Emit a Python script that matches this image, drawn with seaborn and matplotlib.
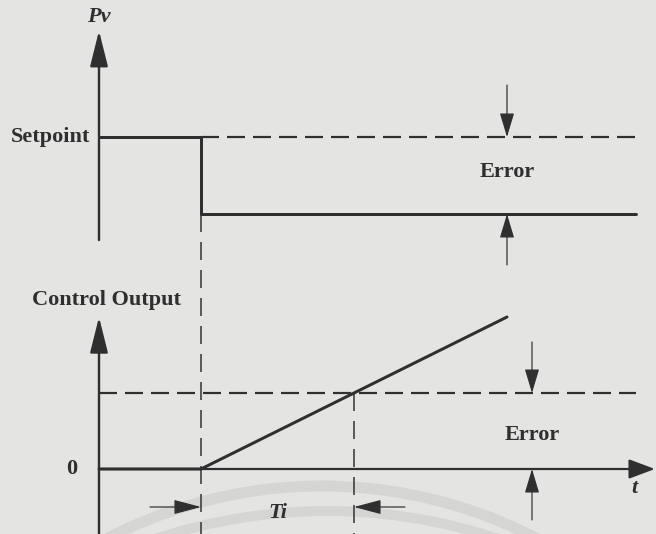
import matplotlib
matplotlib.use("Agg")
import matplotlib.pyplot as plt
from matplotlib.patches import Arc
import seaborn as sns

sns.set_theme(style="white")
plt.rcParams["font.family"] = ["Liberation Serif", "DejaVu Serif"]
plt.rcParams["lines.scale_dashes"] = False

# ---------------- data (abstract units) ----------------
# process variable (top panel)
pv_time = [0.0, 1.0, 1.0, 5.26]
pv_value = [1.0, 1.0, 0.0, 0.0]
setpoint = 1.0
# control output (bottom panel)
out_time = [0.0, 1.0, 4.0]
out_value = [0.0, 0.0, 2.0]
error_level = 1.0
step_time = 1.0
ti_time = 2.5
t_end = 5.26

BG = "#e4e4e2"
INK = "#2f2f2f"
PX = 0.72  # points per pixel at dpi 100

fig = plt.figure(figsize=(6.56, 5.34), dpi=100, facecolor=BG)

# decorative watermark layer (pixel coordinates)
deco = fig.add_axes([0, 0, 1, 1])
deco.set_xlim(0, 656); deco.set_ylim(534, 0); deco.axis("off")
deco.add_patch(Arc((322, 952), 2 * 466, 2 * 466, theta1=180, theta2=360,
                   lw=11 * PX, color="#d5d5d3"))
deco.add_patch(Arc((327, 1051), 2 * 540, 2 * 540, theta1=180, theta2=360,
                   lw=10 * PX, color="#d5d5d3"))

xlim = (-99 / 102, 557 / 102)
top = fig.add_axes([0, 0, 1, 1], label="top")
top.set_xlim(*xlim); top.set_ylim((214 - 534) / 77, 214 / 77)
top.axis("off"); top.patch.set_alpha(0)
bot = fig.add_axes([0, 0, 1, 1], label="bot")
bot.set_xlim(*xlim); bot.set_ylim(-65 / 76, 469 / 76)
bot.axis("off"); bot.patch.set_alpha(0)

hdash = (18 * PX, 8 * PX)
vdash = (18 * PX, 10 * PX)


def arrow(ax, start, end, lw, hl, hw, color=INK):
    ax.annotate("", xy=end, xytext=start,
                arrowprops=dict(arrowstyle=f"-|>,head_length={hl},head_width={hw}",
                                lw=lw, color=color, shrinkA=0, shrinkB=0,
                                mutation_scale=10))


# ---------------- top panel ----------------
sns.lineplot(x=pv_time, y=pv_value, ax=top, sort=False, estimator=None,
             color=INK, lw=3 * PX)
l = sns.lineplot(x=[step_time, t_end], y=[setpoint, setpoint], ax=top,
                 sort=False, estimator=None, color=INK, lw=2.2 * PX).lines[-1]
l.set_dashes(hdash)
l = sns.lineplot(x=[step_time, step_time], y=[0.0, -4.16], ax=top,
                 sort=False, estimator=None, color=INK, lw=1.5 * PX,
                 orient="y").lines[-1]
l.set_dashes(vdash)
# Pv axis
arrow(top, (0, -0.338), (0, 2.38), 2.4 * PX, 2.2, 0.55)
# error arrows
arrow(top, (4.0, 1.675), (4.0, setpoint), 1.2 * PX, 1.5, 0.45)
arrow(top, (4.0, -0.662), (4.0, 0.0), 1.2 * PX, 1.5, 0.45)

fs = 16
top.text(0, 2.56, "Pv", fontsize=fs, fontweight="bold", fontstyle="italic",
         ha="center", va="center", color=INK)
top.text(-0.085, setpoint, "Setpoint", fontsize=fs, fontweight="bold",
         ha="right", va="center", color=INK)
top.text(4.0, 0.55, "Error", fontsize=fs, fontweight="bold",
         ha="center", va="center", color=INK)

# ---------------- bottom panel ----------------
# time axis
arrow(bot, (0, 0), (5.45, 0), 2.2 * PX, 1.6, 0.6)
# control output axis
arrow(bot, (0, -0.9), (0, 2.0), 2.4 * PX, 2.2, 0.55)
sns.lineplot(x=out_time, y=out_value, ax=bot, sort=False, estimator=None,
             color=INK, lw=3 * PX)
l = sns.lineplot(x=[0.0, t_end], y=[error_level, error_level], ax=bot,
                 sort=False, estimator=None, color=INK, lw=2.2 * PX).lines[-1]
l.set_dashes(hdash)
l = sns.lineplot(x=[ti_time, ti_time], y=[error_level, -0.86], ax=bot,
                 sort=False, estimator=None, color=INK, lw=1.5 * PX,
                 orient="y").lines[-1]
l.set_dashes(vdash)
# error arrows
arrow(bot, (4.245, 1.671), (4.245, error_level), 1.2 * PX, 1.5, 0.45)
arrow(bot, (4.245, -0.671), (4.245, 0.0), 1.2 * PX, 1.5, 0.45)
# Ti arrows
arrow(bot, (0.5, -0.5), (step_time, -0.5), 1.2 * PX, 1.7, 0.45)
arrow(bot, (3.0, -0.5), (ti_time, -0.5), 1.2 * PX, 1.7, 0.45)

bot.text(0.078, 2.22, "Control Output", fontsize=fs, fontweight="bold",
         ha="center", va="center", color=INK)
bot.text(-0.265, 0.0, "0", fontsize=fs, fontweight="bold",
         ha="center", va="center", color=INK)
bot.text(5.245, -0.25, "t", fontsize=fs, fontweight="bold", fontstyle="italic",
         ha="center", va="center", color=INK)
bot.text(4.245, 0.447, "Error", fontsize=fs, fontweight="bold",
         ha="center", va="center", color=INK)
bot.text(1.755, -0.58, "Ti", fontsize=fs, fontweight="bold", fontstyle="italic",
         ha="center", va="center", color=INK)

fig.savefig("out.png", dpi=100, facecolor=BG)
